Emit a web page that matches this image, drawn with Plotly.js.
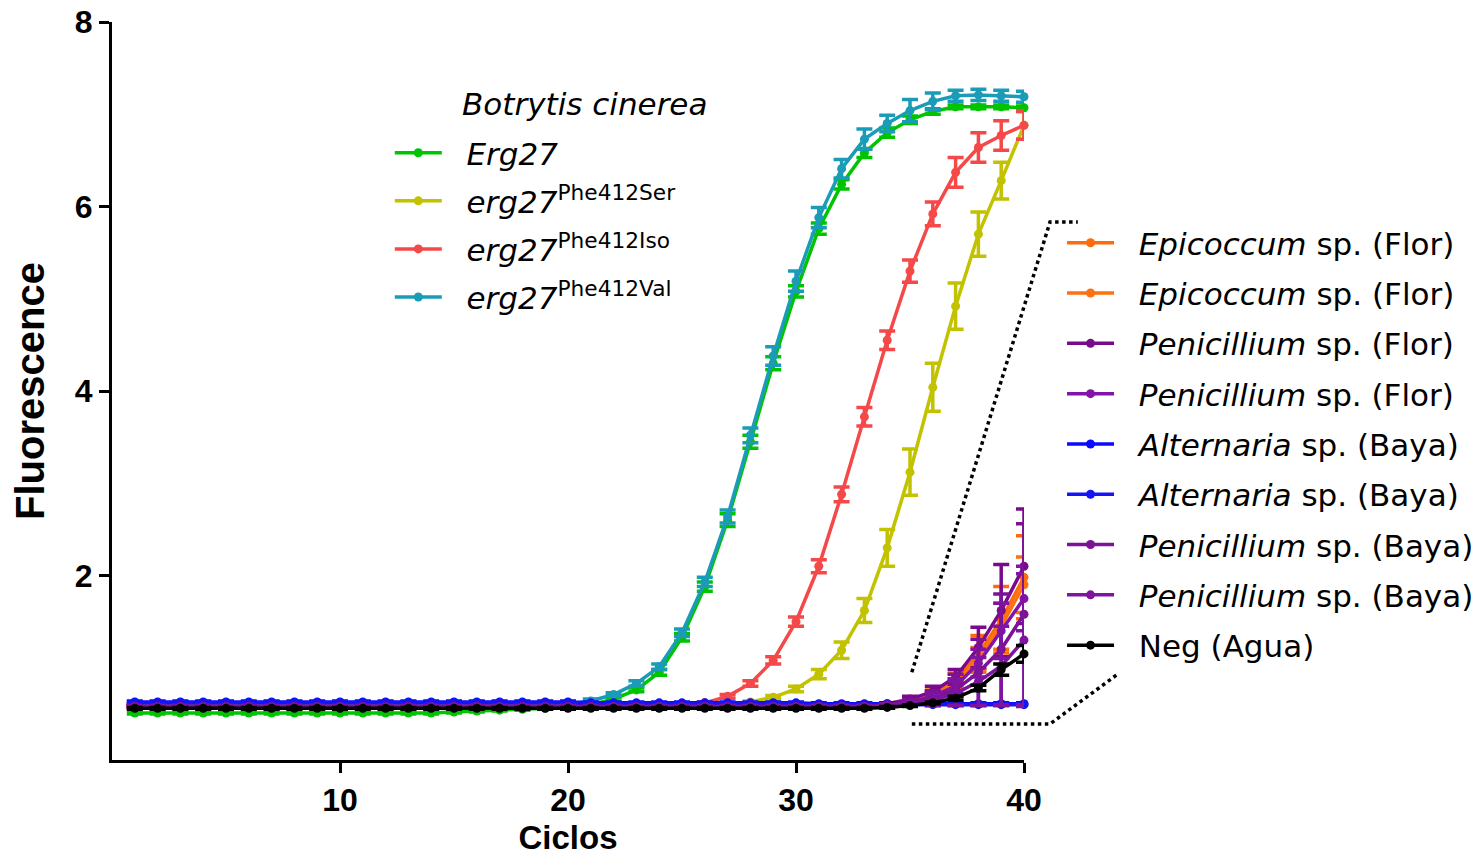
<!DOCTYPE html>
<html>
<head>
<meta charset="utf-8">
<script src="https://cdn.plot.ly/plotly-3.0.1.min.js"></script>
<style>html,body{margin:0;padding:0;background:#fff;}#chart{width:1483px;height:856px;}</style>
</head>
<body>
<div id="chart"></div>
<script>
const cycles = [1,2,3,4,5,6,7,8,9,10,11,12,13,14,15,16,17,18,19,20,21,22,23,24,25,26,27,28,29,30,31,32,33,34,35,36,37,38,39,40];

const erg27 = [0.51,0.51,0.51,0.51,0.51,0.51,0.51,0.51,0.51,0.51,0.51,0.51,0.51,0.51,0.52,0.53,0.54,0.55,0.56,0.57,0.60,0.66,0.76,0.95,1.33,1.88,2.60,3.45,4.30,5.08,5.76,6.24,6.58,6.80,6.94,7.03,7.08,7.08,7.08,7.07];
const erg27Err = [0.01,0.01,0.01,0.01,0.01,0.01,0.01,0.01,0.01,0.01,0.01,0.01,0.01,0.01,0.01,0.01,0.01,0.01,0.01,0.01,0.01,0.02,0.02,0.03,0.04,0.05,0.07,0.07,0.07,0.06,0.06,0.05,0.05,0.05,0.04,0.03,0.02,0.02,0.02,0.02];

const phe412Ser = [0.58,0.58,0.58,0.58,0.58,0.58,0.58,0.58,0.58,0.58,0.58,0.58,0.58,0.58,0.58,0.58,0.58,0.58,0.58,0.58,0.58,0.58,0.58,0.58,0.58,0.58,0.60,0.63,0.68,0.77,0.93,1.19,1.62,2.30,3.12,4.04,4.92,5.70,6.28,6.88];
const phe412SerErr = [0.01,0.01,0.01,0.01,0.01,0.01,0.01,0.01,0.01,0.01,0.01,0.01,0.01,0.01,0.01,0.01,0.01,0.01,0.01,0.01,0.01,0.01,0.01,0.01,0.01,0.01,0.01,0.01,0.02,0.03,0.05,0.09,0.13,0.20,0.25,0.26,0.25,0.24,0.20,0.15];

const phe412Iso = [0.58,0.58,0.58,0.58,0.58,0.58,0.58,0.58,0.58,0.58,0.58,0.58,0.58,0.58,0.58,0.58,0.58,0.58,0.58,0.58,0.58,0.58,0.58,0.58,0.59,0.62,0.69,0.83,1.08,1.50,2.10,2.88,3.72,4.55,5.30,5.92,6.37,6.64,6.77,6.88];
const phe412IsoErr = [0.01,0.01,0.01,0.01,0.01,0.01,0.01,0.01,0.01,0.01,0.01,0.01,0.01,0.01,0.01,0.01,0.01,0.01,0.01,0.01,0.01,0.01,0.01,0.01,0.01,0.01,0.02,0.03,0.04,0.05,0.07,0.08,0.10,0.10,0.12,0.13,0.16,0.16,0.16,0.15];

const phe412Val = [0.60,0.60,0.60,0.60,0.60,0.60,0.60,0.60,0.60,0.60,0.60,0.60,0.60,0.60,0.60,0.60,0.60,0.60,0.61,0.61,0.64,0.71,0.83,1.01,1.38,1.93,2.64,3.52,4.38,5.19,5.88,6.41,6.73,6.90,7.04,7.14,7.20,7.21,7.20,7.19];
const phe412ValErr = [0.01,0.01,0.01,0.01,0.01,0.01,0.01,0.01,0.01,0.01,0.01,0.01,0.01,0.01,0.01,0.01,0.01,0.01,0.01,0.01,0.02,0.02,0.03,0.03,0.04,0.05,0.07,0.08,0.10,0.11,0.11,0.10,0.11,0.09,0.12,0.09,0.06,0.06,0.06,0.06];

const epicoccumFlor1 = [0.58,0.58,0.58,0.58,0.58,0.58,0.58,0.58,0.58,0.58,0.58,0.58,0.58,0.58,0.58,0.58,0.58,0.58,0.58,0.58,0.58,0.58,0.58,0.58,0.58,0.58,0.58,0.58,0.58,0.58,0.58,0.58,0.58,0.60,0.64,0.72,0.86,1.15,1.52,1.98];
const epicoccumFlor1Err = [0.01,0.01,0.01,0.01,0.01,0.01,0.01,0.01,0.01,0.01,0.01,0.01,0.01,0.01,0.01,0.01,0.01,0.01,0.01,0.01,0.01,0.01,0.01,0.01,0.01,0.01,0.01,0.01,0.01,0.01,0.01,0.01,0.01,0.01,0.02,0.04,0.08,0.20,0.36,0.45];
const epicoccumFlor2 = [0.58,0.58,0.58,0.58,0.58,0.58,0.58,0.58,0.58,0.58,0.58,0.58,0.58,0.58,0.58,0.58,0.58,0.58,0.58,0.58,0.58,0.58,0.58,0.58,0.58,0.58,0.58,0.58,0.58,0.58,0.58,0.58,0.58,0.59,0.63,0.70,0.83,1.10,1.45,1.90];
const epicoccumFlor2Err = [0.01,0.01,0.01,0.01,0.01,0.01,0.01,0.01,0.01,0.01,0.01,0.01,0.01,0.01,0.01,0.01,0.01,0.01,0.01,0.01,0.01,0.01,0.01,0.01,0.01,0.01,0.01,0.01,0.01,0.01,0.01,0.01,0.01,0.01,0.02,0.03,0.05,0.12,0.25,0.30];
const penicilliumFlor1 = [0.58,0.58,0.58,0.58,0.58,0.58,0.58,0.58,0.58,0.58,0.58,0.58,0.58,0.58,0.58,0.58,0.58,0.58,0.58,0.58,0.58,0.58,0.58,0.58,0.58,0.58,0.58,0.58,0.58,0.58,0.58,0.58,0.58,0.61,0.66,0.74,0.90,1.22,1.62,2.10];
const penicilliumFlor1Err = [0.01,0.01,0.01,0.01,0.01,0.01,0.01,0.01,0.01,0.01,0.01,0.01,0.01,0.01,0.01,0.01,0.01,0.01,0.01,0.01,0.01,0.01,0.01,0.01,0.01,0.01,0.01,0.01,0.01,0.01,0.01,0.01,0.01,0.01,0.03,0.06,0.08,0.22,0.50,0.62];
const penicilliumFlor2 = [0.58,0.58,0.58,0.58,0.58,0.58,0.58,0.58,0.58,0.58,0.58,0.58,0.58,0.58,0.58,0.58,0.58,0.58,0.58,0.58,0.58,0.58,0.58,0.58,0.58,0.58,0.58,0.58,0.58,0.58,0.58,0.58,0.58,0.60,0.63,0.69,0.80,1.05,1.40,1.75];
const penicilliumFlor2Err = [0.01,0.01,0.01,0.01,0.01,0.01,0.01,0.01,0.01,0.01,0.01,0.01,0.01,0.01,0.01,0.01,0.01,0.01,0.01,0.01,0.01,0.01,0.01,0.01,0.01,0.01,0.01,0.01,0.01,0.01,0.01,0.01,0.01,0.01,0.02,0.05,0.08,0.15,0.30,0.35];
const alternariaBaya1 = [0.63,0.63,0.63,0.63,0.63,0.63,0.63,0.63,0.63,0.63,0.63,0.63,0.63,0.63,0.63,0.63,0.63,0.63,0.63,0.63,0.62,0.62,0.62,0.62,0.62,0.62,0.62,0.62,0.62,0.62,0.61,0.61,0.61,0.61,0.61,0.61,0.61,0.61,0.61,0.61];
const alternariaBaya1Err = [0.01,0.01,0.01,0.01,0.01,0.01,0.01,0.01,0.01,0.01,0.01,0.01,0.01,0.01,0.01,0.01,0.01,0.01,0.01,0.01,0.01,0.01,0.01,0.01,0.01,0.01,0.01,0.01,0.01,0.01,0.01,0.01,0.01,0.01,0.01,0.01,0.01,0.01,0.01,0.01];
const alternariaBaya2 = [0.62,0.62,0.62,0.62,0.62,0.62,0.62,0.62,0.62,0.62,0.62,0.62,0.62,0.62,0.62,0.62,0.62,0.62,0.62,0.62,0.61,0.61,0.61,0.61,0.61,0.61,0.61,0.61,0.61,0.61,0.60,0.60,0.60,0.60,0.60,0.60,0.60,0.60,0.60,0.60];
const alternariaBaya2Err = [0.01,0.01,0.01,0.01,0.01,0.01,0.01,0.01,0.01,0.01,0.01,0.01,0.01,0.01,0.01,0.01,0.01,0.01,0.01,0.01,0.01,0.01,0.01,0.01,0.01,0.01,0.01,0.01,0.01,0.01,0.01,0.01,0.01,0.01,0.01,0.01,0.01,0.01,0.01,0.01];
const penicilliumBaya1 = [0.58,0.58,0.58,0.58,0.58,0.58,0.58,0.58,0.58,0.58,0.58,0.58,0.58,0.58,0.58,0.58,0.58,0.58,0.58,0.58,0.58,0.58,0.58,0.58,0.58,0.58,0.58,0.58,0.58,0.58,0.58,0.58,0.58,0.60,0.62,0.67,0.76,0.95,1.20,1.58];
const penicilliumBaya1Err = [0.01,0.01,0.01,0.01,0.01,0.01,0.01,0.01,0.01,0.01,0.01,0.01,0.01,0.01,0.01,0.01,0.01,0.01,0.01,0.01,0.01,0.01,0.01,0.01,0.01,0.01,0.01,0.01,0.01,0.01,0.01,0.01,0.01,0.01,0.03,0.08,0.17,0.36,0.60,0.98];
const penicilliumBaya2 = [0.58,0.58,0.58,0.58,0.58,0.58,0.58,0.58,0.58,0.58,0.58,0.58,0.58,0.58,0.58,0.58,0.58,0.58,0.58,0.58,0.58,0.58,0.58,0.58,0.58,0.58,0.58,0.58,0.58,0.58,0.58,0.58,0.58,0.59,0.61,0.65,0.72,0.85,1.02,1.30];
const penicilliumBaya2Err = [0.01,0.01,0.01,0.01,0.01,0.01,0.01,0.01,0.01,0.01,0.01,0.01,0.01,0.01,0.01,0.01,0.01,0.01,0.01,0.01,0.01,0.01,0.01,0.01,0.01,0.01,0.01,0.01,0.01,0.01,0.01,0.01,0.01,0.01,0.02,0.06,0.13,0.26,0.43,0.72];
const negAgua = [0.56,0.56,0.56,0.56,0.56,0.56,0.56,0.56,0.56,0.56,0.56,0.56,0.56,0.56,0.56,0.56,0.56,0.56,0.56,0.56,0.56,0.56,0.56,0.56,0.56,0.56,0.56,0.56,0.56,0.56,0.56,0.56,0.56,0.57,0.59,0.62,0.67,0.78,0.98,1.15];
const negAguaErr = [0.01,0.01,0.01,0.01,0.01,0.01,0.01,0.01,0.01,0.01,0.01,0.01,0.01,0.01,0.01,0.01,0.01,0.01,0.01,0.01,0.01,0.01,0.01,0.01,0.01,0.01,0.01,0.01,0.01,0.01,0.01,0.01,0.01,0.01,0.01,0.01,0.02,0.03,0.06,0.09];

const xTicks = [10,20,30,40];
const yTicks = [2,4,6,8];

const botrytisSeries = [
  {name: '<i>Erg27</i>', y: erg27, e: erg27Err, color: '#00c400'},
  {name: '<i>erg27</i><sup>Phe412Ser</sup>', y: phe412Ser, e: phe412SerErr, color: '#c2c200'},
  {name: '<i>erg27</i><sup>Phe412Iso</sup>', y: phe412Iso, e: phe412IsoErr, color: '#f54848'},
  {name: '<i>erg27</i><sup>Phe412Val</sup>', y: phe412Val, e: phe412ValErr, color: '#1a9cb8'}
];
const otherSeries = [
  {name: '<i>Epicoccum</i> sp. (Flor)', y: epicoccumFlor1, e: epicoccumFlor1Err, color: '#ff6a0a'},
  {name: '<i>Epicoccum</i> sp. (Flor)', y: epicoccumFlor2, e: epicoccumFlor2Err, color: '#ff7010'},
  {name: '<i>Penicillium</i> sp. (Flor)', y: penicilliumFlor1, e: penicilliumFlor1Err, color: '#7a0a8c'},
  {name: '<i>Penicillium</i> sp. (Flor)', y: penicilliumFlor2, e: penicilliumFlor2Err, color: '#8214a8'},
  {name: '<i>Alternaria</i> sp. (Baya)', y: alternariaBaya1, e: alternariaBaya1Err, color: '#0a0aff'},
  {name: '<i>Alternaria</i> sp. (Baya)', y: alternariaBaya2, e: alternariaBaya2Err, color: '#1414f5'},
  {name: '<i>Penicillium</i> sp. (Baya)', y: penicilliumBaya1, e: penicilliumBaya1Err, color: '#7c1296'},
  {name: '<i>Penicillium</i> sp. (Baya)', y: penicilliumBaya2, e: penicilliumBaya2Err, color: '#7e14a0'},
  {name: 'Neg (Agua)', y: negAgua, e: negAguaErr, color: '#000000'}
];

const FONT = 'Liberation Sans, Arial, Helvetica, sans-serif';
const LEGFONT = 'DejaVu Sans, Verdana, sans-serif';
const GAP = '\u00A0\u00A0';

function mk(s, i, legendId) {
  return {
    type: 'scatter', mode: 'lines+markers', x: cycles, y: s.y, name: GAP + s.name,
    legend: legendId, legendgroup: legendId + '_' + i,
    line: {color: s.color, width: 3.5},
    marker: {color: s.color, size: 9},
    error_y: {type: 'data', array: s.e, visible: true, color: s.color, thickness: 3.5, width: 8},
    cliponaxis: false
  };
}

const traces = [];
botrytisSeries.forEach((s, i) => traces.push(mk(s, i, 'legend')));
otherSeries.forEach((s, i) => traces.push(mk(s, i, 'legend2')));

const layout = {
  width: 1483, height: 856,
  margin: {l: 112, r: 459, t: 22, b: 96, pad: 0, autoexpand: false},
  paper_bgcolor: '#ffffff', plot_bgcolor: '#ffffff',
  font: {family: FONT, color: '#000'},
  showlegend: true,
  xaxis: {
    range: [0, 40], tickvals: xTicks, ticktext: xTicks.map(String),
    ticks: 'outside', ticklen: 10, tickwidth: 3, tickcolor: '#000',
    showline: true, linewidth: 3, linecolor: '#000', mirror: false,
    showgrid: false, zeroline: false,
    tickfont: {family: FONT, size: 32, color: '#000', weight: 700},
    title: {text: 'Ciclos', font: {family: FONT, size: 33, color: '#000', weight: 700}, standoff: 10}
  },
  yaxis: {
    range: [0, 8], tickvals: yTicks, ticktext: yTicks.map(String),
    ticks: 'outside', ticklen: 10, tickwidth: 3, tickcolor: '#000',
    showline: true, linewidth: 3, linecolor: '#000',
    showgrid: false, zeroline: false,
    tickfont: {family: FONT, size: 32, color: '#000', weight: 700},
    title: {text: 'Fluorescence', font: {family: FONT, size: 40, color: '#000', weight: 700}, standoff: 18}
  },
  legend: {
    x: 0.3046, y: 0.859, xanchor: 'left', yanchor: 'top',
    bgcolor: 'rgba(0,0,0,0)', borderwidth: 0,
    font: {family: LEGFONT, size: 31, color: '#000'},
    itemwidth: 47, tracegroupgap: 4.8, itemclick: false
  },
  legend2: {
    x: 1.0417, y: 0.737, xanchor: 'left', yanchor: 'top',
    bgcolor: 'rgba(0,0,0,0)', borderwidth: 0,
    font: {family: LEGFONT, size: 31, color: '#000'},
    itemwidth: 47, tracegroupgap: 7, itemclick: false
  },
  annotations: [{
    xref: 'paper', yref: 'paper', x: 0.3816, y: 0.889, xanchor: 'left', yanchor: 'middle',
    text: '<i>Botrytis cinerea</i>', showarrow: false,
    font: {family: LEGFONT, size: 31, color: '#000'}
  }],
  shapes: [
    {type: 'path', xref: 'paper', yref: 'paper', path: 'M 0.877,0.119 L 1.0285,0.729 L 1.059,0.729',
     line: {color: '#000', width: 3.5, dash: 'dot'}},
    {type: 'path', xref: 'paper', yref: 'paper', path: 'M 0.877,0.0488 L 1.0285,0.0488 L 1.103,0.1165',
     line: {color: '#000', width: 3.5, dash: 'dot'}}
  ]
};

Plotly.newPlot('chart', traces, layout, {displayModeBar: false, staticPlot: true});
</script>
</body>
</html>
